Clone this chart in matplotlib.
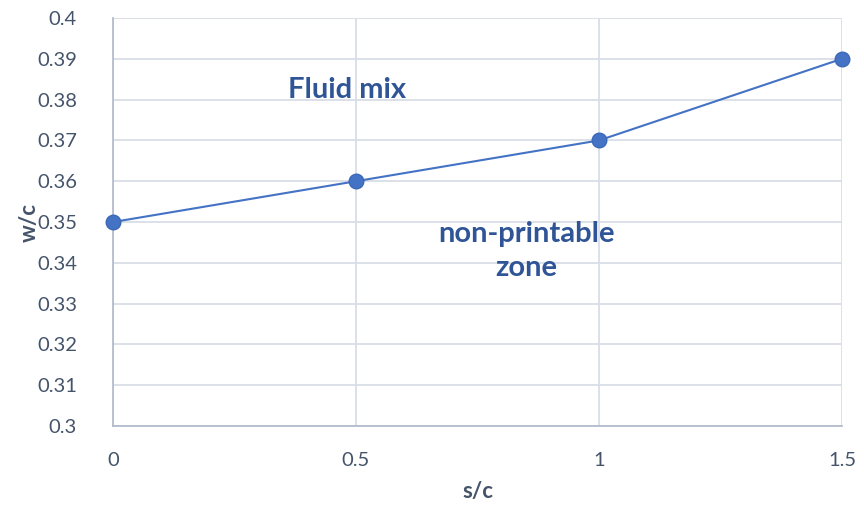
import matplotlib
matplotlib.use("Agg")
from matplotlib import pyplot as plt

# data
sc = [0, 0.5, 1, 1.5]
wc = [0.35, 0.36, 0.37, 0.39]
x_ticks = [0, 0.5, 1, 1.5]
x_labels = ["0", "0.5", "1", "1.5"]
y_ticks = [0.30, 0.31, 0.32, 0.33, 0.34, 0.35, 0.36, 0.37, 0.38, 0.39, 0.40]
y_labels = ["0.3", "0.31", "0.32", "0.33", "0.34", "0.35", "0.36", "0.37", "0.38", "0.39", "0.4"]

plt.rcParams['font.family'] = ['Lato', 'DejaVu Sans']

fig = plt.figure(figsize=(8.64, 5.09), dpi=100)
ax = fig.add_axes([0.1308, 0.163, 0.8437, 0.8016])

ax.plot(sc, wc, color='#4472c4', linewidth=1.5, marker='o', markersize=10.5,
        markerfacecolor='#4472c4', markeredgecolor='#3c68b8', zorder=3, clip_on=False)

ax.set_xlim(0, 1.5)
ax.set_ylim(0.3, 0.4)
ax.set_xticks(x_ticks)
ax.set_xticklabels(x_labels)
ax.set_yticks(y_ticks)
ax.set_yticklabels(y_labels)
ax.grid(True, color='#d9dde6', linewidth=1.3)
ax.set_axisbelow(True)
ax.tick_params(length=0, labelsize=14.5, labelcolor='#44546a')
ax.tick_params(axis='x', pad=19)
ax.tick_params(axis='y', pad=26)

for s in ['top', 'right']:
    ax.spines[s].set_visible(False)
for s in ['left', 'bottom']:
    ax.spines[s].set_color('#b4bccc')
    ax.spines[s].set_linewidth(1.3)

ax.set_xlabel('s/c', fontsize=16, fontweight='bold', color='#44546a', labelpad=8)
ax.set_ylabel('w/c', fontsize=16, fontweight='bold', color='#44546a')
ax.yaxis.set_label_coords(-0.1, 0.5)

ax.text(0.481, 0.3824, 'Fluid mix', fontsize=21, fontweight='bold',
        color='#2f5597', ha='center', va='center')
ax.text(0.85, 0.3429, 'non-printable\nzone', fontsize=21, fontweight='bold',
        color='#2f5597', ha='center', va='center', linespacing=1.4)

plt.savefig("out.png", dpi=100)
